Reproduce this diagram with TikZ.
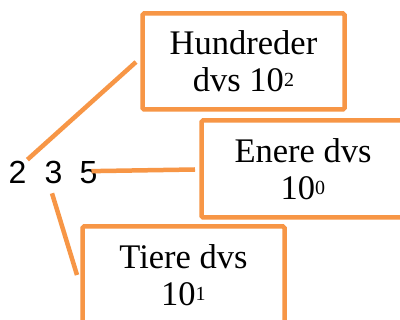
\documentclass[tikz,border=0pt]{standalone}
\usepackage{fontspec}
\setmainfont{Liberation Serif}
\newfontfamily\digitfont{Liberation Sans}
\usetikzlibrary{calc}
\definecolor{boxorange}{HTML}{F79646}
\newcommand\mysup[1]{\raisebox{5pt}{\fontsize{20}{20}\selectfont #1}}
\begin{document}
\begin{tikzpicture}[x=1pt,y=-1pt,
  numbox/.style={draw=boxorange, line width=4.5pt, rounded corners=1.5pt, align=center,
    inner sep=0pt, outer sep=0pt, font=\fontsize{34.5}{37}\selectfont},
  digit/.style={inner sep=0pt, outer sep=0pt, anchor=base, font=\digitfont\fontsize{32}{32}\selectfont},
  conn/.style={draw=boxorange, line width=4.5pt}]
\useasboundingbox (0,0) rectangle (400,320);
\clip (0,0) rectangle (400,320);
\fill[white] (0,0) rectangle (400,320);
\node[numbox, minimum width=202pt, minimum height=96pt] (h) at (243.5,61.5) {Hundreder\\dvs 10\mysup{2}};
\node[numbox, minimum width=203pt, minimum height=97pt] (e) at (303,169) {Enere dvs\\10\mysup{0}};
\node[numbox, minimum width=202pt, minimum height=97pt] (t) at (183.5,275) {Tiere dvs\\10\mysup{1}};
\node[digit] (d2) at (17.5,184) {2};
\node[digit] (d3) at (53.5,184) {3};
\node[digit] (d5) at (88.5,184) {5};
\draw[conn] ($(d2.north east)+(1,-2)$) -- ($(h.west)+(-6.5,0.5)$);
\draw[conn] ($(d5.center)+(3,-2)$) -- ($(e.west)+(-6.5,0.5)$);
\draw[conn] ($(d3.south)+(-1.5,9)$) -- ($(t.west)+(-5.5,0)$);
\end{tikzpicture}
\end{document}
